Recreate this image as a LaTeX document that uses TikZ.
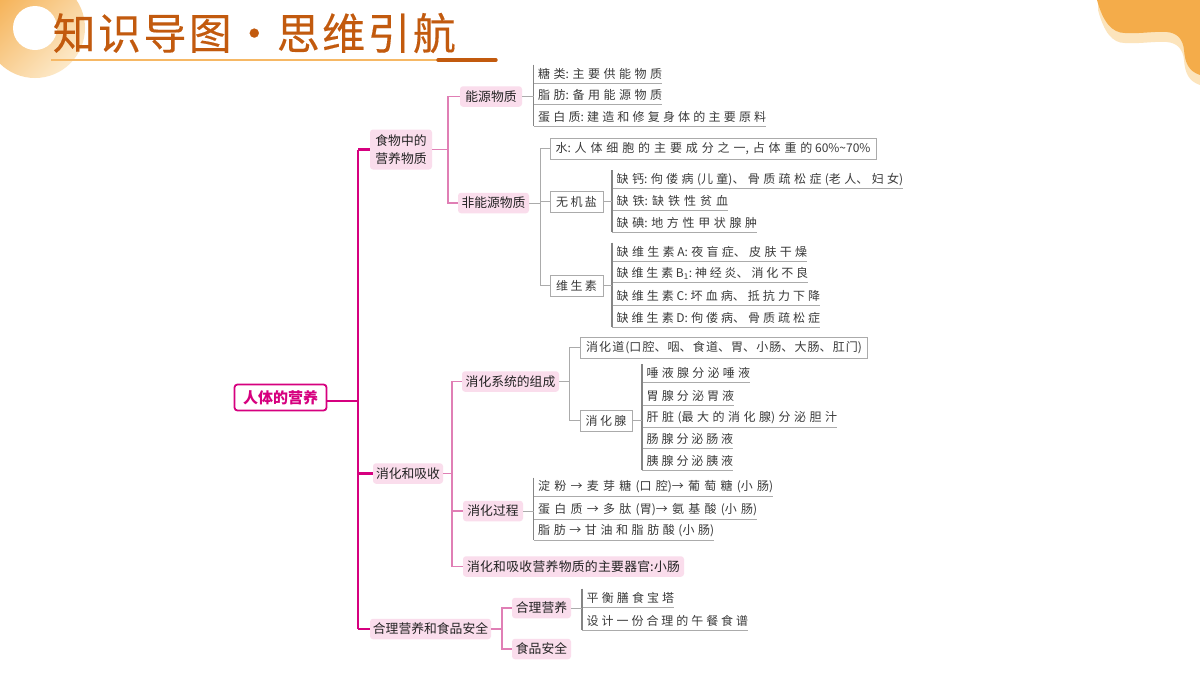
\documentclass[tikz,border=0pt]{standalone}
\usepackage{fontspec}
\setmainfont{Noto Sans CJK SC}
\newfontfamily\titlefont[LetterSpace=5.5,FakeBold=0.25]{Noto Sans CJK SC}
\XeTeXlinebreaklocale "zh"
\XeTeXlinebreakskip=0pt plus 1fil
\definecolor{mag}{HTML}{D6007F}
\definecolor{pinkfill}{HTML}{FADDEC}
\definecolor{pinkline}{HTML}{E07FB5}
\definecolor{grayline}{HTML}{ABABAB}
\definecolor{spine}{HTML}{858585}
\definecolor{inkdark}{HTML}{222222}
\definecolor{inkitem}{HTML}{3A3A3A}
\definecolor{titlec}{HTML}{C25A0E}
\definecolor{orangeA}{HTML}{F4AC4A}
\definecolor{orangeB}{HTML}{FCE4BC}
\newcommand{\fitbox}[2]{\parbox{#1pt}{\parfillskip=0pt\parindent=0pt\noindent #2}}
\tikzset{
  x=1pt,y=-1pt,
  itemfont/.style={font=\fontsize{12}{14}\selectfont,text=inkitem},
  rootbox/.style={draw=mag,line width=1.8pt,rounded corners=3pt,fill=white,minimum width=92pt,minimum height=26pt,inner sep=0pt,text=mag,font=\fontsize{15}{18}\selectfont\bfseries},
  pinkbox/.style={fill=pinkfill,rounded corners=3pt,inner sep=0pt,minimum height=20.5pt,text=inkdark,font=\fontsize{12.8}{18.4}\selectfont,align=center},
  graybox/.style={draw=grayline,line width=1pt,fill=white,inner sep=0pt,minimum height=21pt,itemfont},
  itemnode/.style={inner sep=0pt,anchor=south west,minimum height=18pt,itemfont},
  trunk/.style={draw=mag,line width=2.2pt},
  pinklink/.style={draw=pinkline,line width=1.1pt},
  graylink/.style={draw=grayline,line width=1pt},
  barline/.style={draw=spine,line width=1.3pt},
  underl/.style={draw=grayline,line width=1pt},
}
% name, left x (spine), right x, underline y, text
\newcommand{\lineitem}[5]{%
  \pgfmathsetmacro{\itemw}{#3-#2-4.5}%
  \node[itemnode,minimum width=#3pt-#2pt] (#1) at (#2,#4) {\kern4.5pt\fitbox{\itemw}{#5}};
  \draw[underl] (#1.south west) -- (#1.south east);
}
\begin{document}
\begin{tikzpicture}
\useasboundingbox (0,0) rectangle (1200,675);
\clip (0,0) rectangle (1200,675);
\fill[white] (0,0) rectangle (1200,675);
% decoration
\shade[top color=orangeA!95!white,bottom color=orangeB!80!white,shading angle=45] (35,28) circle (50);
\fill[white] (35,28) circle (22);
\fill[orangeB] (1098,0) -- (1098,10) .. controls (1104,32) and (1112,43) .. (1125,43) .. controls (1140,44) and (1155,41) .. (1167,42) .. controls (1178,43) and (1183,50) .. (1184,60) .. controls (1185,72) and (1188,81) .. (1200,85) -- (1200,0) -- cycle;
\fill[orangeA] (1097,0) .. controls (1103,22) and (1112,33) .. (1125,33) .. controls (1140,34) and (1155,31) .. (1167,32) .. controls (1178,33) and (1183,40) .. (1184,50) .. controls (1185,62) and (1188,71) .. (1200,75) -- (1200,0) -- cycle;
% title
\node[inner sep=0pt,anchor=west,text=titlec,font=\titlefont\fontsize{43}{48}\selectfont] (title) at (52.5,33) {知识导图\makebox[45pt]{·}思维引航};
\coordinate (ulA) at (51,60);
\coordinate (ulB) at (438,60);
\coordinate (ulC) at (498,60);
\draw[draw=orangeA!85!white,line width=1.6pt] (ulA) -- (ulB);
\draw[draw=titlec,line width=3.4pt,line cap=round] (ulB) -- ([xshift=-2pt]ulC);
% main nodes
\node[rootbox] (root) at (280.5,397.5) {人体的营养};
\node[pinkbox,minimum width=62pt,minimum height=40pt] (food) at (401,149.5) {食物中的\\营养物质};
\node[pinkbox,minimum width=70pt] (digest) at (408,473.5) {消化和吸收};
\node[pinkbox,minimum width=121pt] (safe) at (430.5,629) {合理营养和食品安全};
\node[pinkbox,minimum width=62pt] (energy) at (491,96.5) {能源物质};
\node[pinkbox,minimum width=71pt] (nonen) at (493.5,203) {非能源物质};
\node[pinkbox,minimum width=97pt] (system) at (510.5,381.5) {消化系统的组成};
\node[pinkbox,minimum width=60pt] (process) at (493,511) {消化过程};
\node[pinkbox,minimum width=221pt] (organ) at (573.5,566.5) {\fitbox{213}{消化和吸收营养物质的主要器官:小肠}};
\node[pinkbox,minimum width=59pt] (reason) at (541.5,608) {合理营养};
\node[pinkbox,minimum width=59pt] (foodsafe) at (541.5,649) {食品安全};
% gray boxes
\node[graybox,minimum width=326pt] (water) at (713,148.5) {\fitbox{315}{水:人体细胞的主要成分之一,占体重的 60\%\textasciitilde70\%}};
\node[graybox,minimum width=53pt] (salt) at (576.5,201.5) {\fitbox{41}{无机盐}};
\node[graybox,minimum width=53pt] (vita) at (576.5,285.5) {\fitbox{41}{维生素}};
\node[graybox,minimum width=287pt] (tract) at (724,347.5) {\fitbox{276}{消化道(口腔、咽、食道、胃、小肠、大肠、肛门)}};
\node[graybox,minimum width=52pt] (gland) at (606,420.5) {\fitbox{41}{消化腺}};
% coordinates for trunk and branches
\coordinate (trunkx) at (358,0);
\coordinate (linkA) at (448,0);
\coordinate (linkB) at (452,0);
\coordinate (linkC) at (502,0);
\coordinate (linkD) at (540,0);
\coordinate (linkE) at (569.5,0);
% trunk
\draw[trunk] ([yshift=-3.5pt]root.east) -- ([yshift=-3.5pt]root.east -| trunkx);
\draw[trunk,line cap=square] (food.west -| trunkx) -- (safe.west -| trunkx);
\draw[trunk] (food.west -| trunkx) -- (food.west);
\draw[trunk] (digest.west -| trunkx) -- (digest.west);
\draw[trunk] (safe.west -| trunkx) -- (safe.west);
% pink links
\draw[pinklink] (food.east) -- (food.east -| linkA);
\draw[pinklink] (energy.west) -| (linkA |- nonen.west) -- (nonen.west);
\draw[pinklink] (digest.east) -- (digest.east -| linkB);
\draw[pinklink] (system.west) -| (linkB |- organ.west) -- (organ.west);
\draw[pinklink] (process.west) -- (process.west -| linkB);
\draw[pinklink] (safe.east) -- (safe.east -| linkC);
\draw[pinklink] (reason.west) -| (linkC |- foodsafe.west) -- (foodsafe.west);
% energy items
\lineitem{tA}{533.5}{662}{83}{糖类:主要供能物质}
\lineitem{tB}{533.5}{662}{104.5}{脂肪:备用能源物质}
\lineitem{tC}{533.5}{766}{126}{蛋白质:建造和修复身体的主要原料}
\draw[barline] (tA.north west) -- (tC.south west);
\draw[graylink] (energy.east) -- (energy.east -| tA.west);
% non-energy
\draw[graylink] (nonen.east) -- (nonen.east -| linkD);
\draw[graylink] (water.west) -| (linkD |- vita.west) -- (vita.west);
\draw[graylink] (salt.west) -- (salt.west -| linkD);
\lineitem{sA}{612}{903}{188.5}{缺钙:佝偻病(儿童)、骨质疏松症(老人、妇女)}
\lineitem{sB}{612}{728}{210.5}{缺铁:缺铁性贫血}
\lineitem{sC}{612}{757}{232}{缺碘:地方性甲状腺肿}
\draw[barline] (sA.north west) -- (sC.south west);
\draw[graylink] (salt.east) -- (salt.east -| sA.west);
\lineitem{vA}{612}{807}{261}{缺维生素 A:夜盲症、皮肤干燥}
\lineitem{vB}{612}{808}{282.5}{缺维生素 B\textsubscript{1}:神经炎、消化不良}
\lineitem{vC}{612}{820}{305}{缺维生素 C:坏血病、抵抗力下降}
\lineitem{vD}{612}{820}{327}{缺维生素 D:佝偻病、骨质疏松症}
\draw[barline] (vA.north west) -- (vD.south west);
\draw[graylink] (vita.east) -- (vita.east -| vA.west);
% digestive system
\draw[graylink] (system.east) -- (system.east -| linkE);
\draw[graylink] (tract.west) -| (linkE |- gland.west) -- (gland.west);
\lineitem{gA}{642}{750}{382.5}{唾液腺分泌唾液}
\lineitem{gB}{642}{734}{405}{胃腺分泌胃液}
\lineitem{gC}{642}{837}{427}{肝脏(最大的消化腺)分泌胆汁}
\lineitem{gD}{642}{733}{448.5}{肠腺分泌肠液}
\lineitem{gE}{642}{733}{470}{胰腺分泌胰液}
\draw[barline] (gA.north west) -- (gE.south west);
\draw[graylink] (gland.east) -- (gland.east -| gA.west);
% process
\lineitem{pA}{533.5}{773}{496}{淀粉→麦芽糖(口腔)→葡萄糖(小肠)}
\lineitem{pB}{533.5}{757}{519}{蛋白质→多肽(胃)→氨基酸(小肠)}
\lineitem{pC}{533.5}{714}{540}{脂肪→甘油和脂肪酸(小肠)}
\draw[barline] (pA.north west) -- (pC.south west);
\draw[graylink] (process.east) -- (process.east -| pA.west);
% reasonable nutrition
\lineitem{rA}{582}{674}{607}{平衡膳食宝塔}
\lineitem{rB}{582}{748}{630}{设计一份合理的午餐食谱}
\draw[barline] (rA.north west) -- (rB.south west);
\draw[graylink] (reason.east) -- (reason.east -| rA.west);
\end{tikzpicture}
\end{document}
